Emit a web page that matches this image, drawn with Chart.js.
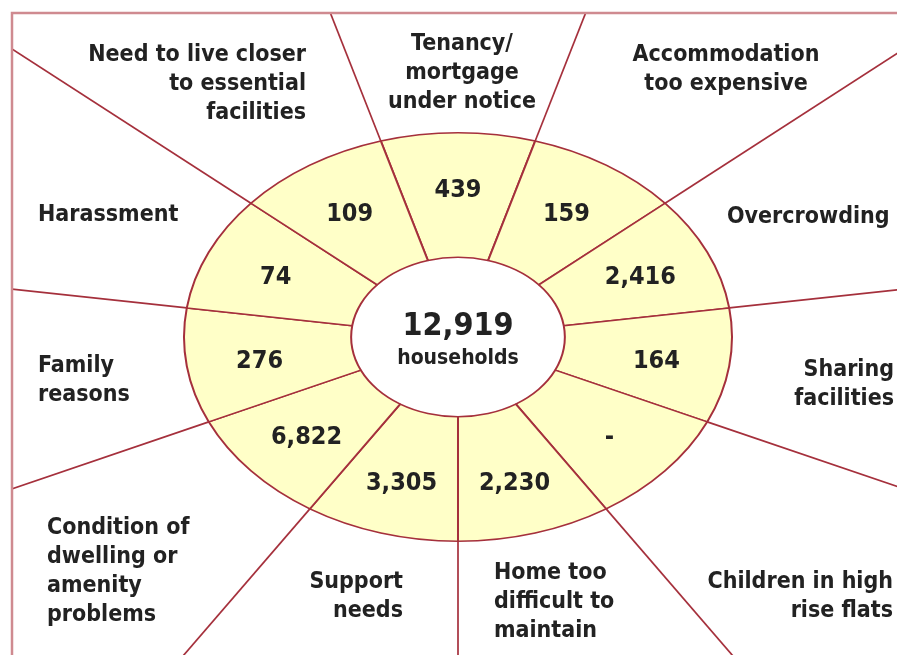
<!DOCTYPE html>
<html>
<head>
<meta charset="utf-8">
<script src="https://cdn.jsdelivr.net/npm/chart.js@4.4.1/dist/chart.umd.min.js"></script>
<style>
  html, body { margin: 0; padding: 0; background: #fff; }
  canvas { display: block; }
</style>
</head>
<body>
<canvas id="chart" width="897" height="655"></canvas>
<script>
// reasons, clockwise from the top segment
var categories = [
    ["Tenancy/", "mortgage", "under notice"],
    ["Accommodation", "too expensive"],
    ["Overcrowding"],
    ["Sharing", "facilities"],
    ["Children in high", "rise flats"],
    ["Home too", "difficult to", "maintain"],
    ["Support", "needs"],
    ["Condition of", "dwelling or", "amenity", "problems"],
    ["Family", "reasons"],
    ["Harassment"],
    ["Need to live closer", "to essential", "facilities"]
];

// households per reason (null = "-")
var values = [439, 159, 2416, 164, null, 2230, 3305, 6822, 276, 74, 109];

var totalLabel = "12,919";
var totalUnit = "households";

// where each category text sits: x, y of first line, alignment
var labelPos = [
    [462, 44, 'center'],
    [726, 55, 'center'],
    [727, 217, 'left'],
    [894, 370, 'right'],
    [893, 582, 'right'],
    [494, 573, 'left'],
    [403, 582, 'right'],
    [47, 528, 'left'],
    [38, 366, 'left'],
    [38, 215, 'left'],
    [306, 55, 'right']
];

var lineColor = '#a5303c';
var frameColor = '#cf8a90';
var fillColor = '#ffffc8';
var textColor = '#222';
var fontFam = '"DejaVu Sans Condensed", "DejaVu Sans", sans-serif';

// the ring in the original is an ellipse, wider than tall
var stretchX = 275 / 205;

var frame = { left: 12, top: 13 };

var ellipsePlugin = {
    id: 'ellipse',
    beforeDatasetsDraw: function (chart) {
        var arc = chart.getDatasetMeta(0).data[0];
        var ctx = chart.ctx;
        ctx.save();
        ctx.translate(arc.x, arc.y);
        ctx.scale(stretchX, 1);
        ctx.translate(-arc.x, -arc.y);
    },
    afterDatasetsDraw: function (chart) {
        var ctx = chart.ctx;
        ctx.restore();

        var arcs = chart.getDatasetMeta(0).data;
        var w = chart.width, h = chart.height;

        // spokes running from the ring out to the frame
        ctx.save();
        ctx.beginPath();
        ctx.rect(frame.left, frame.top, w - frame.left, h - frame.top);
        ctx.clip();
        ctx.strokeStyle = lineColor;
        ctx.lineWidth = 1.7;
        arcs.forEach(function (a) {
            var p = a.getProps(['x', 'y', 'startAngle', 'outerRadius']);
            var c = Math.cos(p.startAngle), s = Math.sin(p.startAngle);
            ctx.beginPath();
            ctx.moveTo(p.x + c * p.outerRadius * stretchX, p.y + s * p.outerRadius);
            ctx.lineTo(p.x + c * 2000 * stretchX, p.y + s * 2000);
            ctx.stroke();
        });
        ctx.restore();

        // frame (top and left edges, the rest runs off the picture)
        ctx.save();
        ctx.strokeStyle = frameColor;
        ctx.lineWidth = 2.5;
        ctx.beginPath();
        ctx.moveTo(w, frame.top);
        ctx.lineTo(frame.left, frame.top);
        ctx.lineTo(frame.left, h);
        ctx.stroke();
        ctx.restore();

        // values inside the ring
        ctx.save();
        ctx.fillStyle = textColor;
        ctx.textAlign = 'center';
        ctx.textBaseline = 'middle';
        ctx.font = 'bold 25px ' + fontFam;
        arcs.forEach(function (a, i) {
            var p = a.getProps(['x', 'y', 'startAngle', 'endAngle', 'innerRadius', 'outerRadius']);
            var mid = (p.startAngle + p.endAngle) / 2;
            var r = p.innerRadius + 0.56 * (p.outerRadius - p.innerRadius);
            var txt = values[i] == null ? '-' : values[i].toLocaleString('en-US');
            ctx.fillText(txt, p.x + Math.cos(mid) * r * stretchX, p.y + Math.sin(mid) * r + 3);
        });

        // total in the hole
        var cx = arcs[0].x, cy = arcs[0].y;
        ctx.font = 'bold 32px ' + fontFam;
        ctx.fillText(totalLabel, cx, cy - 10);
        ctx.font = 'bold 21px ' + fontFam;
        ctx.fillText(totalUnit, cx, cy + 22);

        // category texts
        ctx.font = 'bold 23px ' + fontFam;
        categories.forEach(function (lines, i) {
            var pos = labelPos[i];
            ctx.textAlign = pos[2];
            lines.forEach(function (ln, j) {
                ctx.fillText(ln, pos[0], pos[1] + j * 29);
            });
        });
        ctx.restore();
    }
};

var ctx = document.getElementById('chart');

var chart = new Chart(ctx, {
    type: 'doughnut',
    data: {
        labels: categories.map(function (c) { return c.join(' '); }),
        datasets: [{
            // every reason gets the same slice in the original
            data: categories.map(function () { return 1; }),
            backgroundColor: fillColor,
            borderColor: lineColor,
            borderWidth: 1.5,
            clip: false
        }]
    },
    options: {
        responsive: false,
        animation: false,
        events: [],
        cutout: '39%',
        rotation: -180 / 11,
        layout: {
            padding: { top: 132, bottom: 113, left: 253, right: 234 }
        },
        plugins: {
            legend: { display: false },
            tooltip: { enabled: false }
        }
    },
    plugins: [ellipsePlugin]
});
</script>
</body>
</html>
